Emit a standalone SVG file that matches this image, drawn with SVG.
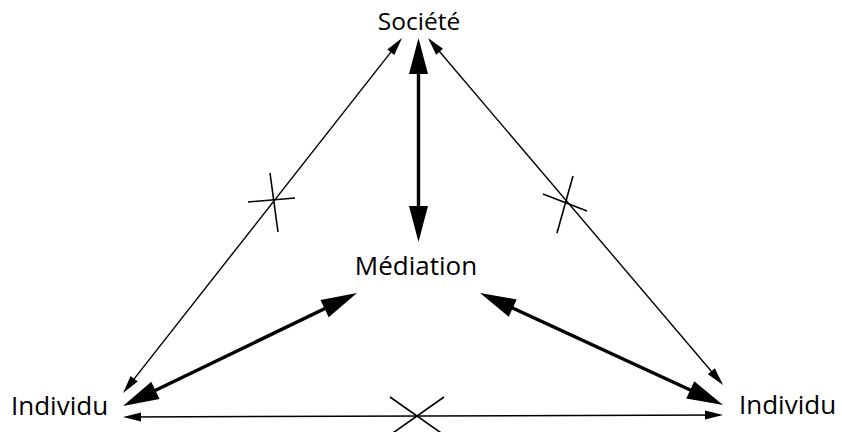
<svg xmlns="http://www.w3.org/2000/svg" width="842" height="432" viewBox="0 0 842 432">
<style>
text{font-family:"Open Sans","Noto Sans","Liberation Sans",sans-serif;fill:#000}
.thin{stroke:#000;stroke-width:1.4;fill:none;marker-start:url(#ah);marker-end:url(#ah)}
.thick{stroke:#000;stroke-width:3.4;fill:none;marker-start:url(#AH);marker-end:url(#AH)}
.x{stroke:#000;stroke-width:1.6;fill:none}
</style>
<defs>
<marker id="ah" markerUnits="userSpaceOnUse" viewBox="0 -4.5 18 9" markerWidth="18" markerHeight="9" refX="15" refY="0" orient="auto-start-reverse" overflow="visible"><path d="M0,-4.5 L18,0 L0,4.5 z" fill="#000"/></marker>
<marker id="AH" markerUnits="userSpaceOnUse" viewBox="0 -9.5 36 19" markerWidth="36" markerHeight="19" refX="28" refY="0" orient="auto-start-reverse" overflow="visible"><path d="M0,-9.5 L36,0 L0,9.5 z" fill="#000"/></marker>
</defs>
<g id="societe"><text x="419" y="30" font-size="24.5" text-anchor="middle">Société</text></g>
<g id="mediation"><text x="416" y="275" font-size="26" text-anchor="middle">Médiation</text></g>
<g id="individu-left"><text x="11" y="415" font-size="26">Individu</text></g>
<g id="individu-right"><text x="739" y="414" font-size="26">Individu</text></g>
<g id="connectors">
<line class="thin" x1="400.1" y1="40.4" x2="124.9" y2="390.6"/>
<line class="thin" x1="429.9" y1="40.3" x2="721.1" y2="382.7"/>
<line class="thin" x1="126" y1="417" x2="720" y2="415"/>
<line class="thick" x1="418.5" y1="46" x2="418.5" y2="234"/>
<line class="thick" x1="130.2" y1="402.5" x2="349.8" y2="296.5"/>
<line class="thick" x1="487.3" y1="296.3" x2="715.7" y2="401.7"/>
<path class="x" d="M248,202 L295,198 M270,173 L278,232"/>
<path class="x" d="M543,194 L587,211 M573,176 L557,233"/>
<path class="x" d="M390,397 L444,435 M444,397 L390,435"/>
</g>
</svg>
